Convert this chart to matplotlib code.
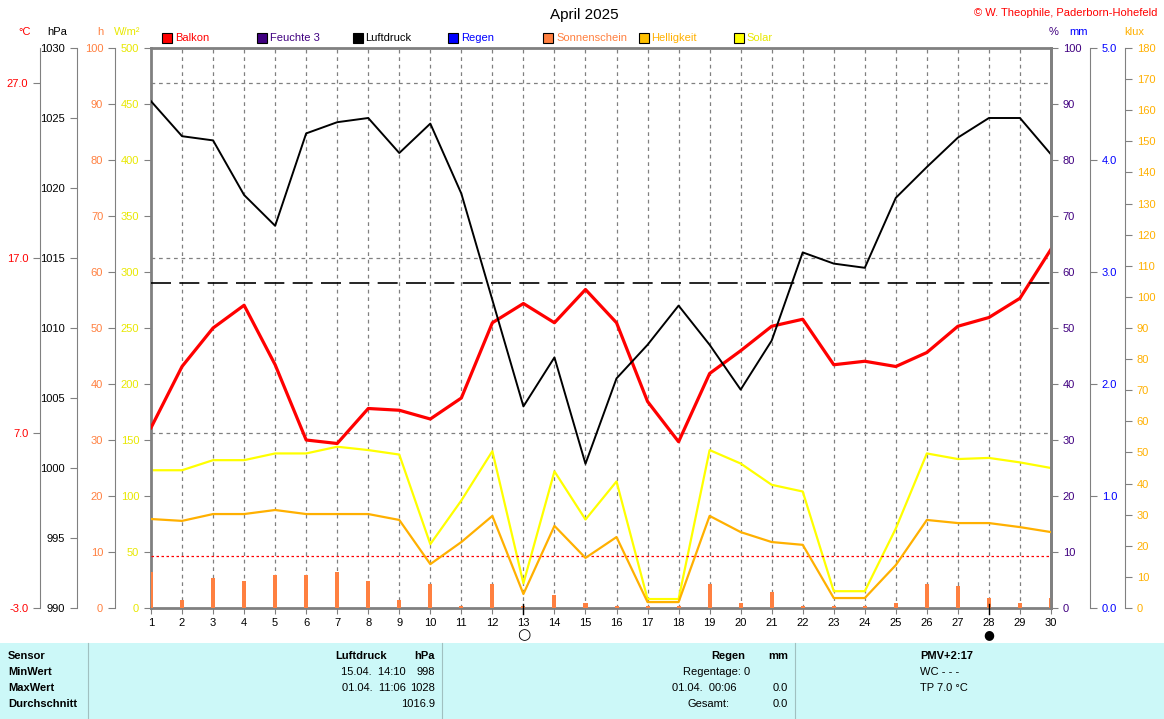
import matplotlib.pyplot as plt
from matplotlib.patches import Rectangle

days = list(range(1, 31))

# Balkon Temperatur (°C)
balkon = [7.3, 10.8, 13.0, 14.3, 10.9, 6.6, 6.4, 8.4, 8.3, 7.8,
          9.0, 13.3, 14.4, 13.3, 15.2, 13.3, 8.8, 6.5, 10.4, 11.7,
          13.1, 13.5, 10.9, 11.1, 10.8, 11.6, 13.1, 13.6, 14.7, 17.5]
# Luftdruck (hPa)
luftdruck = [1026.2, 1023.7, 1023.4, 1019.5, 1017.3, 1023.9, 1024.7, 1025.0, 1022.5, 1024.6,
             1019.6, 1012.0, 1004.4, 1007.9, 1000.3, 1006.4, 1008.8, 1011.6, 1008.8, 1005.6,
             1009.1, 1015.4, 1014.6, 1014.3, 1019.3, 1021.5, 1023.6, 1025.0, 1025.0, 1022.4]
# Solar (W/m²)
solar = [123, 123, 132, 132, 138, 138, 144, 141, 137, 57,
         96, 140, 22, 122, 79, 113, 8, 8, 141, 129,
         110, 104, 15, 15, 71, 138, 133, 134, 130, 125]
# Helligkeit (klux)
helligkeit = [28.6, 28.0, 30.2, 30.2, 31.5, 30.2, 30.2, 30.2, 28.3, 14.1,
              21.2, 29.6, 4.5, 26.4, 16.1, 22.8, 1.9, 1.9, 29.6, 24.4,
              21.2, 20.3, 3.2, 3.2, 13.8, 28.3, 27.3, 27.3, 26.0, 24.4]
# Sonnenschein (h)
sonne = [6.4, 1.4, 5.4, 4.8, 5.9, 5.9, 6.4, 4.8, 1.4, 4.3,
         0.3, 4.3, 0.3, 2.3, 0.9, 0.3, 0.3, 0.3, 4.3, 0.9,
         2.9, 0.3, 0.3, 0.3, 0.9, 4.3, 3.9, 1.8, 0.9, 1.8]

legend_items = [("Balkon", "#ff0000", "#ff0000"), ("Feuchte 3", "#400080", "#400080"),
                ("Luftdruck", "#000000", "#000000"), ("Regen", "#0000ff", "#0000ff"),
                ("Sonnenschein", "#ff8040", "#ff8040"), ("Helligkeit", "#ffc000", "#ffb000"),
                ("Solar", "#ffff00", "#e8e800")]

W, H = 1164, 719
fig = plt.figure(figsize=(W / 100, H / 100), dpi=100)
plt.rcParams['font.family'] = ['Liberation Sans', 'DejaVu Sans']
FS = 8

L, R, T, B = 151, 1051, 48, 608
ax = fig.add_axes([L / W, 1 - B / H, (R - L) / W, (B - T) / H])
ax.set_xlim(1, 30)
ax.set_ylim(0, 500)
ax.set_yticks(range(0, 501, 50))
ax.tick_params(axis='y', colors='gray', labelcolor='#e8e800', labelsize=FS, length=5)
ax.set_xticks(days)
ax.tick_params(axis='x', colors='gray', labelcolor='black', labelsize=FS, length=4)
for s in ax.spines.values():
    s.set_color('gray')
    s.set_linewidth(2)
for d in days[1:-1]:
    ax.axvline(d, color='gray', ls=(0, (3, 3)), lw=0.9, zorder=0)

gray = 'gray'


def side_axis(pos, lo, hi, ticks, color, left=True, fmt=None):
    a = ax.twinx()
    a.set_ylim(lo, hi)
    for k in a.spines:
        a.spines[k].set_visible(False)
    side = 'left' if left else 'right'
    a.spines[side].set_visible(True)
    a.spines[side].set_color(gray)
    a.spines[side].set_position(('axes', pos))
    a.yaxis.set_ticks_position(side)
    a.yaxis.set_label_position(side)
    a.set_yticks(ticks)
    if fmt:
        a.set_yticklabels([fmt % t for t in ticks])
    a.tick_params(axis='y', colors=gray, labelcolor=color, labelsize=FS, length=5)
    return a


ax_t = side_axis((40 - L) / (R - L), -3, 29, [-3, 7, 17, 27], '#ff0000', fmt='%.1f')
ax_p = side_axis((77 - L) / (R - L), 990, 1030, range(990, 1031, 5), 'black')
ax_h = side_axis((115 - L) / (R - L), 0, 100, range(0, 101, 10), '#ff8040')
ax_f = side_axis(1.0, 0, 100, range(0, 101, 10), '#400080', left=False)
ax_f.spines['right'].set_linewidth(2)
ax_r = side_axis(1 + 39 / (R - L), 0, 5, [0, 1, 2, 3, 4, 5], '#0000ff', left=False, fmt='%.1f')
ax_k = side_axis(1 + 74 / (R - L), 0, 180, range(0, 181, 10), '#ffb000', left=False)

# horizontal grid lines on temperature scale
for t in [27, 17, 7]:
    ax_t.axhline(t, color='gray', ls=(0, (3, 3)), lw=0.9, zorder=0)
ax_t.axhline(0, color='#ff0000', ls=(0, (2, 2)), lw=0.9, zorder=0)
ax_f.axhline(58, color='black', ls=(0, (12, 5)), lw=1.2)

ax_h.bar(days, sonne, width=0.13, color='#ff8040', zorder=2)
ax_k.plot(days, helligkeit, color='#ffb000', lw=1.6)
ax.plot(days, solar, color='#ffff00', lw=1.6)
ax_p.plot(days, luftdruck, color='black', lw=1.4)
ax_t.plot(days, balkon, color='#ff0000', lw=2.3)

# moon phases
for d, sym, fs in [(13, '○', 11), (28, '●', 9)]:
    xf = (L + (d - 1) * (R - L) / 29) / W
    fig.add_artist(plt.Line2D([xf, xf], [1 - 604 / H, 1 - 614 / H], transform=fig.transFigure,
                              color='black', lw=1))
    fig.text(xf, 1 - 635 / H, sym, ha='center', va='center', fontsize=fs,
             family=['DejaVu Sans'])

fig.text(584 / W, 1 - 15 / H, 'April 2025', ha='center', va='center', fontsize=11)
fig.text(1157 / W, 1 - 13 / H, '© W. Theophile, Paderborn-Hohefeld', ha='right', va='center',
         fontsize=FS, color='#ff0000')
for txt, x, c in [('°C', 25, '#ff0000'), ('hPa', 57, 'black'), ('h', 100, '#ff8040'),
                  ('W/m²', 127, '#e8e800'), ('%', 1054, '#400080'), ('mm', 1079, '#0000ff'),
                  ('klux', 1134, '#ffb000')]:
    fig.text(x / W, 1 - 32 / H, txt, ha='center', va='center', fontsize=FS, color=c)

for i, (name, fc, tc) in enumerate(legend_items):
    x0 = 162 + i * 95.3
    fig.add_artist(Rectangle((x0 / W, 1 - 43 / H), 10 / W, 10 / H, transform=fig.transFigure,
                             facecolor=fc, edgecolor='black', lw=0.8))
    fig.text((x0 + 13) / W, 1 - 38 / H, name, va='center', fontsize=FS, color=tc)

# table
fig.add_artist(Rectangle((0, 0), 1, 1 - 643 / H, transform=fig.transFigure,
                         facecolor='#ccf8f8', edgecolor='none'))
for x in [88, 442, 795]:
    fig.add_artist(plt.Line2D([x / W, x / W], [0, 1 - 643 / H], transform=fig.transFigure,
                              color='#a0c0c0', lw=0.8))
rows_y = [656, 672, 688, 704]
left_col = ['Sensor', 'MinWert', 'MaxWert', 'Durchschnitt']
for y, t in zip(rows_y, left_col):
    fig.text(8 / W, 1 - y / H, t, va='center', fontsize=FS, weight='bold')
cells = [
    (387, 'Luftdruck', 'right', 'bold'), (435, 'hPa', 'right', 'bold'),
    (745, 'Regen', 'right', 'bold'), (788, 'mm', 'right', 'bold'),
]
for x, t, ha, w in cells:
    fig.text(x / W, 1 - 656 / H, t, ha=ha, va='center', fontsize=FS, weight=w)
fig.text(920 / W, 1 - 656 / H, 'PMV+2:17', va='center', fontsize=FS, weight='bold')
plain = [
    (672, 406, '15.04.  14:10'), (672, 435, '998'), (688, 406, '01.04.  11:06'), (688, 435, '1028'),
    (704, 435, '1016.9'), (672, 750, 'Regentage: 0'), (688, 737, '01.04.  00:06'), (688, 788, '0.0'),
    (704, 729, 'Gesamt:'), (704, 788, '0.0'),
]
for y, x, t in plain:
    fig.text(x / W, 1 - y / H, t, ha='right', va='center', fontsize=FS)
fig.text(920 / W, 1 - 672 / H, 'WC - - -', va='center', fontsize=FS)
fig.text(920 / W, 1 - 688 / H, 'TP 7.0 °C', va='center', fontsize=FS)

fig.savefig('out.png', dpi=100)
